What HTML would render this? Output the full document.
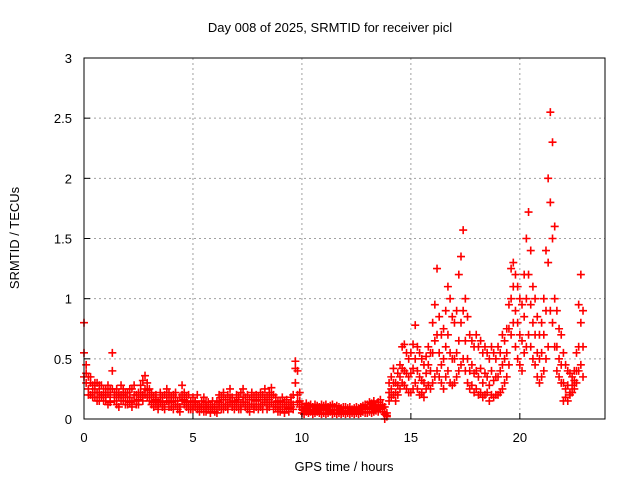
<!DOCTYPE html>
<html><head><meta charset="utf-8"><style>
body{margin:0;background:#fff}
svg{font-family:"Liberation Sans",sans-serif;font-size:13px}
</style></head><body>
<svg id="chart" width="640" height="480" viewBox="0 0 640 480" xmlns="http://www.w3.org/2000/svg">
<rect width="640" height="480" fill="#fff"/>
<text x="330" y="32" text-anchor="middle">Day 008 of 2025, SRMTID for receiver picl</text>
<text x="344" y="471" text-anchor="middle">GPS time / hours</text>
<text x="0" y="0" text-anchor="middle" transform="translate(19,238) rotate(-90)">SRMTID / TECUs</text>
<g id="grid"></g><g id="marks"></g><g id="axes"></g>
</svg>
<script>
const xTicks=[0,5,10,15,20];
const yTicks=[0,0.5,1,1.5,2,2.5,3];
const yTickLabels=["0","0.5","1","1.5","2","2.5","3"];
const tStart=0, tStep=0.1;
const seriesA=[.80,.45,.35,.30,.28,.25,.30,.22,.20,.25,.25,.22,.18,.55,.20,.25,.22,.28,.20,.18,.22,.18,.25,.20,.15,.22,.28,.32,.36,.30,.25,.22,.18,.20,.15,.22,.18,.20,.25,.22,.18,.20,.22,.15,.18,.28,.22,.18,.20,.15,.18,.15,.20,.12,.15,.18,.14,.12,.10,.15,.12,.15,.20,.18,.22,.16,.20,.25,.18,.15,.20,.18,.22,.25,.18,.20,.16,.22,.18,.20,.18,.22,.20,.25,.18,.22,.26,.20,.18,.15,.15,.18,.14,.16,.12,.18,.20,.48,.40,.22,.12,.10,.13,.11,.12,.10,.12,.11,.10,.12,.11,.12,.10,.11,.12,.10,.11,.10,.09,.10,.10,.09,.10,.08,.09,.10,.09,.10,.11,.12,.12,.14,.13,.15,.12,.14,.16,.12,.10,.05,.30,.35,.42,.30,.38,.45,.60,.62,.55,.50,.55,.62,.78,.60,.55,.50,.45,.52,.60,.55,.80,.95,1.25,.85,.70,.75,.90,1.10,1.00,.85,.80,.90,1.20,1.35,1.57,1.00,.85,.70,.65,.60,.70,.60,.65,.55,.60,.55,.50,.60,.55,.50,.60,.55,.70,.65,.75,.95,1.25,1.30,1.20,1.10,1.00,.95,1.20,1.50,1.72,1.40,1.10,1.00,.85,.70,.80,1.00,1.40,2.00,2.55,2.30,1.60,.90,.75,.70,.55,.45,.40,.38,.35,.40,.55,.95,1.20,.90];
const seriesB=[.55,.30,.25,.20,.18,.30,.15,.28,.18,.15,.15,.12,.25,.40,.15,.12,.18,.15,.25,.12,.12,.14,.10,.15,.20,.12,.18,.20,.25,.18,.15,.12,.10,.12,.08,.14,.10,.12,.15,.10,.10,.08,.12,.08,.10,.15,.12,.10,.08,.10,.08,.10,.12,.06,.08,.10,.06,.08,.05,.08,.06,.08,.10,.12,.08,.10,.12,.14,.10,.08,.10,.08,.12,.14,.10,.08,.10,.12,.08,.10,.08,.10,.12,.14,.08,.10,.14,.12,.10,.06,.06,.08,.05,.08,.06,.10,.12,.30,.20,.10,.05,.04,.06,.05,.06,.04,.05,.06,.05,.04,.05,.04,.05,.06,.04,.05,.04,.05,.04,.05,.04,.05,.04,.05,.04,.05,.04,.05,.06,.05,.05,.06,.05,.06,.07,.06,.08,.06,.00,.02,.15,.18,.20,.15,.20,.25,.30,.28,.25,.22,.22,.25,.30,.25,.20,.22,.18,.25,.28,.25,.30,.35,.40,.35,.30,.25,.35,.40,.30,.28,.30,.35,.40,.45,.50,.40,.30,.25,.28,.22,.25,.20,.22,.18,.20,.22,.15,.20,.18,.20,.20,.22,.25,.30,.35,.45,.70,.80,.60,.50,.45,.40,.55,.60,.70,.60,.50,.45,.35,.30,.35,.40,.50,.60,.90,.80,.60,.40,.35,.30,.15,.18,.15,.20,.22,.25,.30,.40,.45,.35];
const seriesC=[.35,.38,.20,.35,.22,.18,.22,.15,.28,.20,.20,.28,.14,.25,.22,.18,.10,.20,.15,.22,.18,.25,.15,.28,.12,.16,.22,.15,.20,.24,.20,.18,.14,.16,.12,.18,.14,.08,.18,.15,.14,.15,.18,.12,.06,.20,.16,.14,.12,.08,.12,.14,.08,.10,.12,.06,.10,.14,.08,.10,.10,.05,.14,.08,.16,.12,.08,.18,.14,.12,.14,.16,.08,.18,.14,.12,.06,.16,.12,.15,.12,.16,.08,.18,.12,.16,.20,.08,.14,.10,.10,.12,.10,.12,.09,.14,.08,.42,.14,.15,.08,.07,.09,.08,.10,.07,.08,.09,.07,.08,.08,.09,.07,.08,.07,.08,.07,.08,.06,.07,.07,.07,.06,.07,.06,.07,.07,.08,.08,.09,.09,.10,.08,.11,.09,.10,.11,.09,.04,.03,.22,.25,.30,.22,.28,.35,.42,.40,.38,.35,.38,.42,.50,.40,.35,.32,.30,.38,.45,.40,.55,.65,.70,.55,.45,.50,.60,.70,.55,.50,.50,.55,.65,.80,.90,.65,.50,.40,.45,.38,.40,.35,.42,.30,.38,.35,.28,.40,.32,.35,.35,.40,.45,.50,.55,.75,1.00,1.10,.90,.80,.70,.65,.85,1.00,1.20,.95,.80,.70,.55,.50,.55,.70,.90,1.30,1.80,1.50,1.00,.60,.50,.45,.30,.25,.28,.22,.28,.32,.40,.60,.80,.60];

const X0=84,X1=607,Y0=419,Y1=58,XMAX=24,YMAX=3;
const xs=t=>X0+(t/XMAX)*(X1-X0);
const ys=v=>Y0-(v/YMAX)*(Y0-Y1);
const NS="http://www.w3.org/2000/svg";
function mk(tag,parent){const e=document.createElementNS(NS,tag);parent.appendChild(e);return e;}
const grid=document.getElementById('grid'),marks=document.getElementById('marks'),axes=document.getElementById('axes');
const right=605;
yTicks.forEach((v,i)=>{
  const y=ys(v);
  if(i>0&&i<yTicks.length-1){const g=mk('line',grid);
    
    
    g.setAttribute('x1',X0);g.setAttribute('x2',right);g.setAttribute('y1',y);g.setAttribute('y2',y);
    g.setAttribute('stroke','#a0a0a0');g.setAttribute('stroke-dasharray','2,3');}
  const tk=mk('line',axes);
  
  
  tk.setAttribute('x1',X0);tk.setAttribute('x2',X0+6);tk.setAttribute('y1',y);tk.setAttribute('y2',y);tk.setAttribute('stroke','#000');
  const tx=mk('text',axes);
  
  
  tx.setAttribute('x',72);tx.setAttribute('y',y+5);tx.setAttribute('text-anchor','end');tx.textContent=yTickLabels[i];
});
xTicks.forEach(t=>{
  const x=xs(t);
  if(t>0){const g=mk('line',grid);
    
    
    g.setAttribute('x1',x);g.setAttribute('x2',x);g.setAttribute('y1',Y1);g.setAttribute('y2',Y0);
    g.setAttribute('stroke','#a0a0a0');g.setAttribute('stroke-dasharray','2,3');}
  const tk=mk('line',axes);
  
  
  tk.setAttribute('x1',x);tk.setAttribute('x2',x);tk.setAttribute('y1',Y0);tk.setAttribute('y2',Y0-6);tk.setAttribute('stroke','#000');
  const tx=mk('text',axes);
  
  
  tx.setAttribute('x',x);tx.setAttribute('y',442);tx.setAttribute('text-anchor','middle');tx.textContent=String(t);
});
const frame=mk('rect',axes);


frame.setAttribute('x',X0);frame.setAttribute('y',Y1);frame.setAttribute('width',right-X0);frame.setAttribute('height',Y0-Y1);
frame.setAttribute('fill','none');frame.setAttribute('stroke','#000');
[seriesB,seriesC,seriesA].forEach((arr,si)=>{
  let d='';
  arr.forEach((v,i)=>{const x=xs(tStart+i*tStep),y=ys(v);
    d+=`M${x-4},${y}h8M${x},${y-4}v8`;});
  const p=mk('path',marks);
  
  
  p.setAttribute('d',d);p.setAttribute('stroke','#ff0000');p.setAttribute('stroke-width','1.6');p.setAttribute('fill','none');
});
</script>
</body></html>
